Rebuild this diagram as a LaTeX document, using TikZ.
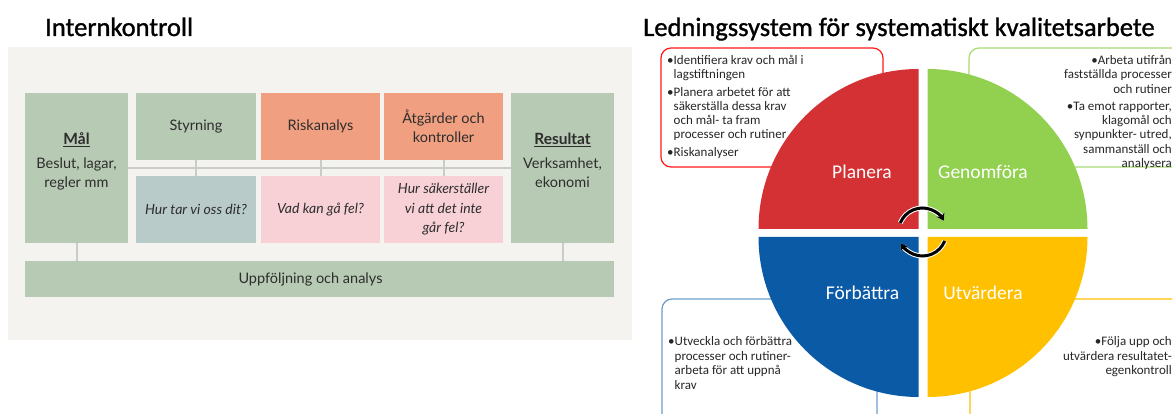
\documentclass[tikz,border=0pt]{standalone}
\usepackage{fontspec}
\setmainfont{Carlito}
\newfontfamily\titlefont[FakeBold=1.2]{Carlito}
\newfontfamily\latofont{Lato}
\usetikzlibrary{positioning,arrows.meta}

\definecolor{ikbg}{RGB}{244,243,239}
\definecolor{iksage}{RGB}{183,202,179}
\definecolor{iksalmon}{RGB}{240,160,128}
\definecolor{ikgrey}{RGB}{185,203,201}
\definecolor{ikpink}{RGB}{248,209,215}
\definecolor{iktext}{RGB}{45,45,45}
\definecolor{iklinkgray}{RGB}{200,205,199}
\definecolor{pdsared}{RGB}{211,49,51}
\definecolor{pdsagreen}{RGB}{146,208,80}
\definecolor{pdsablue}{RGB}{11,90,166}
\definecolor{pdsayellow}{RGB}{255,192,0}

\begin{document}
\begin{tikzpicture}[x=1pt, y=1pt,
    ikbox/.style={inner sep=0pt, align=center, text=iktext,
        font=\latofont\fontsize{14.5}{19.5}\selectfont},
    iklink/.style={draw=iklinkgray, line width=2pt},
    stepnote/.style={inner sep=0pt, text=black!85,
        font=\fontsize{13}{14.3}\selectfont},
    stepname/.style={text=white, font=\fontsize{19.5}{22}\selectfont},
    cycarrow/.style={line width=#1, -{Stealth[length=7pt, width=9pt]}}]

    \useasboundingbox (0,0) rectangle (1172,414);
    \clip (0,0) rectangle (1172,414);

    % Internkontroll
    \node[anchor=base west, inner sep=0pt, font=\titlefont\fontsize{26.5}{30}\selectfont] (iktitle) at (45,378) {Internkontroll};
    \fill[ikbg] (8,74) rectangle (632,367);

    \node[ikbox, fill=iksage, minimum width=103, minimum height=150] (mal) at (76.5,246) {};
    \node[ikbox, below=40pt of mal.north] (maltxt) {\underline{\textbf{\fontsize{15.5}{19}\selectfont Mål}}\\[4pt]Beslut, lagar,\\regler mm};
    \node[ikbox, fill=iksage, minimum width=103, minimum height=150] (res) at (562.5,246) {};
    \node[ikbox, below=40pt of res.north] (restxt) {\underline{\textbf{\fontsize{15.5}{19}\selectfont Resultat}}\\[4pt]Verksamhet,\\ekonomi};
    \node[ikbox, fill=iksage, minimum width=589, minimum height=36] (upp) at (319.5,135) {Uppföljning och analys\hspace*{18pt}};

    \foreach \col/\cx/\topc/\botc/\toptxt/\bottxt in {
        styr/196/iksage/ikgrey/{Styrning}/{Hur tar vi oss dit?},
        risk/320.5/iksalmon/ikpink/{Riskanalys}/{Vad kan gå fel?},
        atg/443.5/iksalmon/ikpink/{Åtgärder och\\kontroller}/{Hur säkerställer\\vi att det inte\\går fel?}} {
        \node[ikbox, fill=\topc, minimum width=119.5, minimum height=67] (\col) at (\cx,287.5) {\toptxt};
        \node[ikbox, fill=\botc, minimum width=119.5, minimum height=67,
            font=\latofont\itshape\fontsize{14}{19.5}\selectfont] (\col q) at (\cx,204.5) {\bottxt};
        \draw[iklink] (\col.south) -- (\col q.north);
    }
    \draw[iklink] (mal.east) -- (res.west);
    \draw[iklink] (mal.south) -- (mal.south |- upp.north);
    \draw[iklink] (res.south) -- (res.south |- upp.north);

    % Ledningssystem
    \node[anchor=base west, inner sep=0pt, font=\titlefont\fontsize{26.5}{30}\selectfont] (lstitle) at (643,378) {Ledningssystem för systematiskt kvalitetsarbete};

    \draw[red!90, line width=1.2pt, rounded corners=10pt] (661,247) rectangle (883,366);
    \draw[pdsagreen!80, line width=1.2pt, rounded corners=10pt] (969,247) rectangle (1190,366);
    \draw[pdsablue!60, line width=1.2pt, rounded corners=10pt] (662,115) rectangle (877,-10);
    \draw[pdsayellow, line width=1.2pt, rounded corners=10pt] (970,115) rectangle (1190,-10);

    \node[stepnote, anchor=north west, align=left] (plannote) at (667,359) {•Identifiera krav och mål i\\\phantom{•}lagstiftningen\\[3pt]•Planera arbetet för att\\\phantom{•}säkerställa dessa krav\\\phantom{•}och mål- ta fram\\\phantom{•}processer och rutiner\\[3pt]•Riskanalyser};
    \node[stepnote, anchor=north east, align=right] (genomnote) at (1172,359) {•Arbeta utifrån\\fastställda processer\\och rutiner\\[3pt]•Ta emot rapporter,\\klagomål och\\synpunkter- utred,\\sammanställ och\\analysera};
    \node[stepnote, anchor=north west, align=left, font=\fontsize{13}{14.8}\selectfont] (forbnote) at (668,78) {•Utveckla och förbättra\\\phantom{•}processer och rutiner-\\\phantom{•}arbeta för att uppnå\\\phantom{•}krav};
    \node[stepnote, anchor=north east, align=right, font=\fontsize{13}{14.8}\selectfont] (utvnote) at (1172,78) {•Följa upp och\\utvärdera resultatet-\\egenkontroll};

    % PDSA-cirkeln
    \foreach \c/\px/\py/\s in {pdsared/918.5/185/180, pdsagreen/927.5/185/90,
        pdsayellow/927.5/177/0, pdsablue/918.5/177/270} {
        \fill[\c] (\px,\py) -- ++(\s:160) arc[start angle=\s, delta angle=-90, radius=160] -- cycle;
    }
    \node[stepname] (plan) at (862,242) {Planera};
    \node[stepname] (genom) at (983,242) {Genomföra};
    \node[stepname] (forb) at (862.5,121) {Förbättra};
    \node[stepname] (utv) at (983,121) {Utvärdera};

    \draw[cycarrow=5pt, white] (922.5,182) ++(158:24) arc[start angle=158, end angle=28, radius=24];
    \draw[cycarrow=3pt, black] (922.5,182) ++(158:24) arc[start angle=158, end angle=28, radius=24];
    \draw[cycarrow=5pt, white] (922.5,182) ++(-22:24) arc[start angle=-22, end angle=-152, radius=24];
    \draw[cycarrow=3pt, black] (922.5,182) ++(-22:24) arc[start angle=-22, end angle=-152, radius=24];
\end{tikzpicture}
\end{document}
